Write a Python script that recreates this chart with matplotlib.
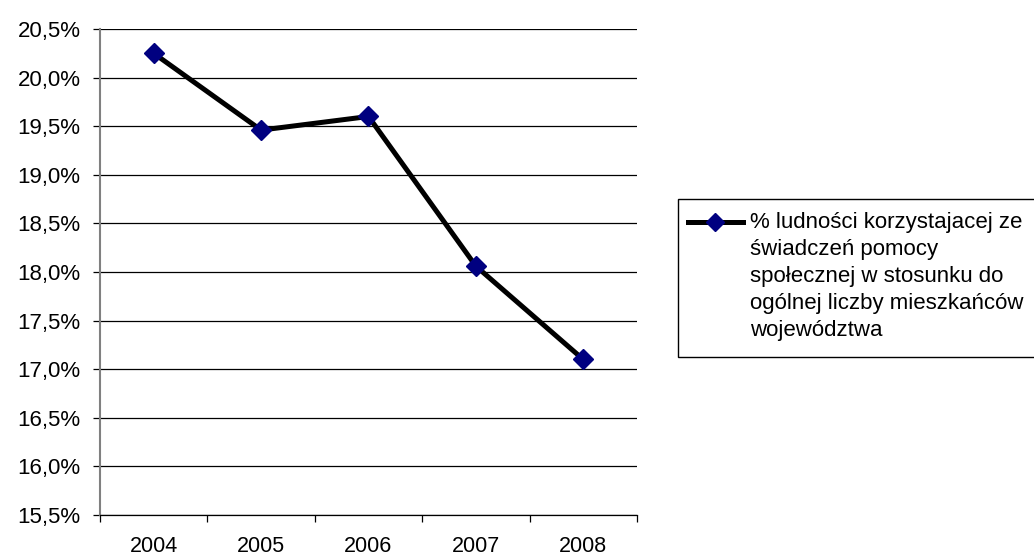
import matplotlib.pyplot as plt
from matplotlib.patches import Rectangle
from matplotlib.lines import Line2D
from matplotlib.ticker import FuncFormatter, FixedLocator

years = ['2004', '2005', '2006', '2007', '2008']
share = [20.25, 19.46, 19.60, 18.06, 17.10]
legend_label = ("% ludności korzystajacej ze\n"
                "świadczeń pomocy\n"
                "społecznej w stosunku do\n"
                "ogólnej liczby mieszkańców\n"
                "województwa")

plt.rcParams['font.family'] = ['Liberation Sans', 'DejaVu Sans']

fig = plt.figure(figsize=(10.34, 5.59), dpi=100)
ax = fig.add_axes([100 / 1034, 44 / 559, 537 / 1034, 486 / 559])

x = range(len(years))
ax.plot(x, share, color='black', lw=3.6, marker='D', markersize=10.5,
        markerfacecolor='#000080', markeredgecolor='#000080', zorder=3)

ax.set_xlim(-0.5, len(years) - 0.5)
ax.set_ylim(15.5, 20.5)
ax.set_yticks([15.5 + 0.5 * i for i in range(11)])
ax.yaxis.set_major_formatter(FuncFormatter(lambda v, p: f"{v:.1f}%".replace('.', ',')))
ax.yaxis.grid(True, color='black', lw=0.9)
ax.set_axisbelow(True)

# boundaries get tick marks, centres get the labels
ax.xaxis.set_major_locator(FixedLocator([i - 0.5 for i in range(len(years) + 1)]))
ax.set_xticklabels([])
ax.set_xticks(list(x), minor=True)
ax.set_xticklabels(years, minor=True)
ax.tick_params(axis='x', which='major', direction='out', length=5, width=0.9, color='black')
ax.tick_params(axis='x', which='minor', length=0, pad=15, labelsize=15.5)
ax.tick_params(axis='y', direction='out', length=5, width=0.9, color='black', pad=9, labelsize=16)

ax.spines['top'].set_visible(False)
ax.spines['right'].set_visible(False)
ax.spines['left'].set_color('#808080')
ax.spines['left'].set_linewidth(1.5)
ax.spines['bottom'].set_color('black')
ax.spines['bottom'].set_linewidth(0.9)

# legend box drawn by hand so the marker sits next to the first line
fig.patches.append(Rectangle((678 / 1034, (559 - 357) / 559), 400 / 1034, 158 / 559,
                             transform=fig.transFigure, facecolor='white',
                             edgecolor='black', lw=1.0))
ly = (559 - 222) / 559
fig.lines.append(Line2D([688 / 1034, 743 / 1034], [ly, ly], transform=fig.transFigure,
                        color='black', lw=3.6))
fig.lines.append(Line2D([715 / 1034], [ly], transform=fig.transFigure, marker='D',
                        markersize=9, markerfacecolor='#000080', markeredgecolor='#000080',
                        lw=0))
fig.text(750 / 1034, (559 - 212) / 559, legend_label, fontsize=16, va='top', ha='left',
         linespacing=1.38)

fig.savefig('out.png', dpi=100)
